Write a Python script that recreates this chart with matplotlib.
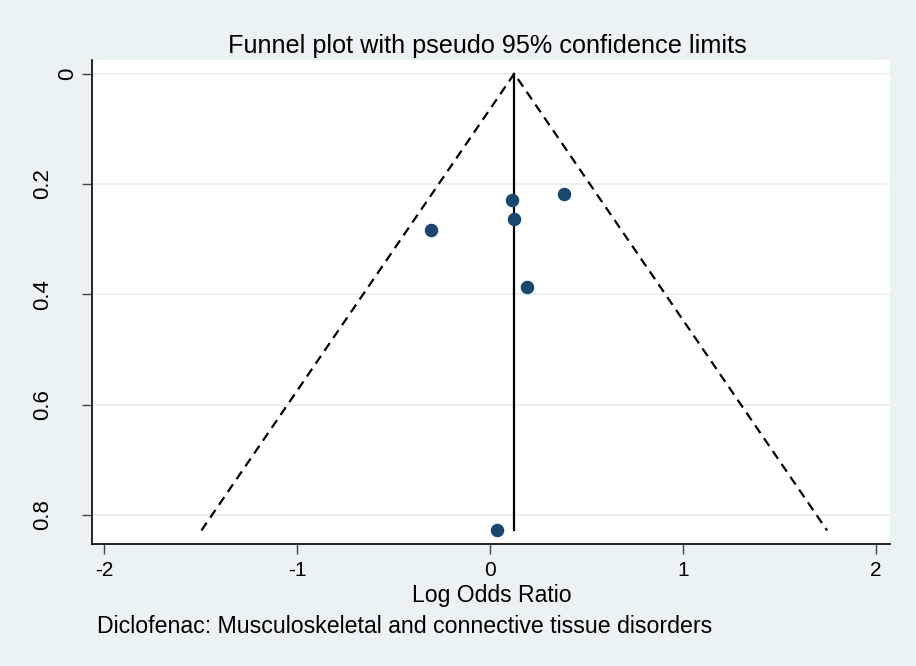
import numpy as np
import matplotlib
matplotlib.use("Agg")
from matplotlib import pyplot as plt

plt.rcParams["font.family"] = ["Liberation Sans", "DejaVu Sans"]
plt.rcParams["axes.unicode_minus"] = False

# study estimates
log_or = [0.113, 0.126, 0.382, -0.304, 0.190, 0.038]
se = [0.229, 0.264, 0.218, 0.283, 0.387, 0.828]
pooled = 0.126

x_ticks = [-2, -1, 0, 1, 2]
y_ticks = [0, 0.2, 0.4, 0.6, 0.8]
y_tick_labels = ["0", "0.2", "0.4", "0.6", "0.8"]

bg = "#EAF2F3"
navy = "#1A476F"

fig = plt.figure(figsize=(9.16, 6.66), dpi=100, facecolor=bg)
ax = fig.add_axes([0.1001, 0.1832, 0.8715, 0.7267])

se_max = max(se)
ax.plot([pooled, pooled], [0, se_max], color="black", lw=1.6, zorder=2)
ax.plot([pooled - 1.96 * se_max, pooled, pooled + 1.96 * se_max],
        [se_max, 0, se_max], color="black", lw=1.6,
        linestyle=(0, (4.2, 2.8)), zorder=2)
ax.plot(log_or, se, "o", color=navy, markersize=8.7, zorder=3)

ax.set_xlim(-2.066, 2.075)
ax.set_ylim(0.8525, -0.0248)
ax.set_xticks(x_ticks)
ax.set_xticklabels([str(t) for t in x_ticks])
ax.set_yticks(y_ticks)
ax.set_yticklabels(y_tick_labels, rotation=90, va="center")

ax.grid(axis="y", color="#E6EFF1", lw=1.2)
ax.set_axisbelow(True)
for s in ["top", "right"]:
    ax.spines[s].set_visible(False)
for s in ["left", "bottom"]:
    ax.spines[s].set_linewidth(1.2)

ax.tick_params(axis="x", length=7, width=1, color="#444444", labelsize=15, pad=5)
ax.tick_params(axis="y", length=7, width=1, color="#444444", labelsize=16)
for i, tick in enumerate(ax.yaxis.get_major_ticks()):
    tick.set_pad(3 if i == 0 else 21)

fig.text(487 / 916, 1 - 52.7 / 666, "Funnel plot with pseudo 95% confidence limits",
         ha="center", va="baseline", fontsize=18.2)
lab = ax.set_xlabel("Log Odds Ratio", fontsize=16.6, va="baseline")
ax.xaxis.set_label_coords(0.501, -0.1192)
fig.text(96.7 / 916, 1 - 633.3 / 666,
         "Diclofenac: Musculoskeletal and connective tissue disorders",
         ha="left", va="baseline", fontsize=16.7)

fig.savefig("out.png", dpi=100, facecolor=bg)
